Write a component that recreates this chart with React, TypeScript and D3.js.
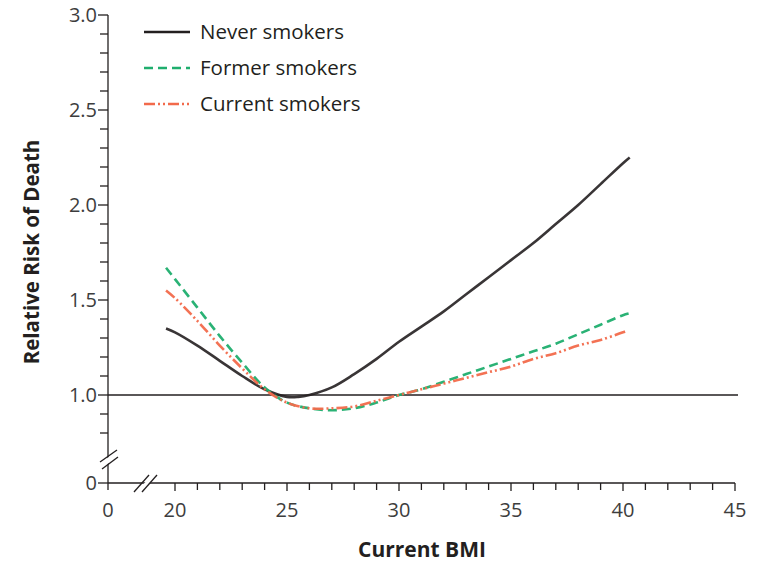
import React from 'react';
import * as d3 from 'd3';

// BMI values
const neverBmi = [19.6, 20, 21, 22, 23, 24, 25, 25.5, 26, 27, 28, 29, 30, 31, 32, 33, 34, 35, 36, 37, 38, 39, 40, 40.3];
const neverRisk = [1.35, 1.33, 1.26, 1.18, 1.10, 1.03, 0.99, 0.99, 1.0, 1.04, 1.11, 1.19, 1.28, 1.36, 1.44, 1.53, 1.62, 1.71, 1.80, 1.90, 2.0, 2.11, 2.22, 2.25];

const formerBmi = [19.6, 20, 21, 22, 23, 24, 25, 26, 27, 28, 29, 30, 31, 32, 33, 34, 35, 36, 37, 38, 39, 40, 40.3];
const formerRisk = [1.67, 1.61, 1.46, 1.31, 1.17, 1.04, 0.96, 0.93, 0.92, 0.93, 0.96, 1.0, 1.03, 1.07, 1.11, 1.15, 1.19, 1.23, 1.27, 1.32, 1.37, 1.42, 1.43];

const currentBmi = [19.6, 20, 21, 22, 23, 24, 25, 26, 27, 28, 29, 30, 31, 32, 33, 34, 35, 36, 37, 38, 39, 40, 40.2];
const currentRisk = [1.55, 1.51, 1.39, 1.26, 1.14, 1.03, 0.96, 0.93, 0.93, 0.94, 0.97, 1.0, 1.03, 1.06, 1.09, 1.12, 1.15, 1.19, 1.22, 1.26, 1.29, 1.33, 1.34];

const xTickLabels = [20, 25, 30, 35, 40, 45];
const yTickLabels = [1.0, 1.5, 2.0, 2.5, 3.0];
const legendNames = ['Never smokers', 'Former smokers', 'Current smokers'];

const colors = ['#231f20', '#1fae6e', '#f26a4b'];
const dashes = ['none', '9,5', '11,3,2,3,2,3'];

const W = 757;
const H = 562;
const axisX = 108; // pixel of BMI 0
const axisY = 483; // pixel of risk 0

const x = d3.scaleLinear().domain([20, 45]).range([175, 735]);
const y = d3.scaleLinear().domain([1, 3]).range([395, 15]);

const font = '"Open Sans", "Noto Sans", sans-serif';
const tickColor = '#3d3d3d';

export default function App() {
  const series = [
    {bmi: neverBmi, risk: neverRisk},
    {bmi: formerBmi, risk: formerRisk},
    {bmi: currentBmi, risk: currentRisk},
  ];

  const line = d3
    .line<[number, number]>()
    .x((d) => x(d[0]))
    .y((d) => y(d[1]))
    .curve(d3.curveCatmullRom);

  const yMinor = d3.range(8, 31).map((d) => d / 10);
  const xMinor = d3.range(20, 46);

  return (
    <svg width={W} height={H} style={{position: 'absolute', left: 0, top: 0}}>
      <rect width={W} height={H} fill="#fff" />

      {/* reference line at 1.0 */}
      <line x1={axisX} x2={738} y1={y(1)} y2={y(1)} stroke="#231f20" strokeWidth={1.3} />

      {/* y axis */}
      <line x1={axisX} x2={axisX} y1={y(3)} y2={axisY + 7} stroke="#231f20" strokeWidth={1.3} />
      {yMinor.map((v) => {
        const major = Math.abs(v * 2 - Math.round(v * 2)) < 1e-6;
        return (
          <line key={v} x1={axisX - (major ? 10 : 8)} x2={axisX} y1={y(v)} y2={y(v)} stroke="#231f20" strokeWidth={1.3} />
        );
      })}
      <line x1={axisX - 10} x2={axisX} y1={axisY} y2={axisY} stroke="#231f20" strokeWidth={1.3} />
      {yTickLabels.map((v) => (
        <text key={v} x={axisX - 11} y={y(v)} dy="0.35em" textAnchor="end" fontFamily={font} fontSize={20} fill={tickColor}>
          {d3.format('.1f')(v)}
        </text>
      ))}
      <text x={axisX - 11} y={axisY} dy="0.35em" textAnchor="end" fontFamily={font} fontSize={20} fill={tickColor}>0</text>

      {/* y break */}
      <polygon points={`${axisX - 6},${462} ${axisX + 9},${451} ${axisX + 9},${457} ${axisX - 6},${468}`} fill="#fff" />
      <line x1={axisX - 8} x2={axisX + 9} y1={462} y2={450} stroke="#231f20" strokeWidth={1.3} />
      <line x1={axisX - 6} x2={axisX + 10} y1={469} y2={457} stroke="#231f20" strokeWidth={1.3} />

      {/* x axis */}
      <line x1={axisX} x2={x(45)} y1={axisY} y2={axisY} stroke="#231f20" strokeWidth={1.3} />
      {xMinor.map((v) => (
        <line key={v} x1={x(v)} x2={x(v)} y1={axisY} y2={axisY + (v % 5 === 0 ? 8 : 7)} stroke="#231f20" strokeWidth={1.3} />
      ))}
      {xTickLabels.map((v) => (
        <text key={v} x={x(v)} y={axisY + 34} textAnchor="middle" fontFamily={font} fontSize={20} fill={tickColor}>{v}</text>
      ))}
      <text x={axisX} y={axisY + 34} textAnchor="middle" fontFamily={font} fontSize={20} fill={tickColor}>0</text>

      {/* x break */}
      <polygon points={`138,490 151,476 156,476 143,490`} fill="#fff" />
      <line x1={134} x2={149} y1={492} y2={475} stroke="#231f20" strokeWidth={1.3} />
      <line x1={142} x2={157} y1={492} y2={475} stroke="#231f20" strokeWidth={1.3} />

      {/* curves */}
      {series.map((s, i) => (
        <path
          key={i}
          d={line(s.bmi.map((b, j) => [b, s.risk[j]] as [number, number])) || ''}
          fill="none"
          stroke={colors[i]}
          strokeWidth={2.6}
          strokeDasharray={dashes[i]}
          opacity={i === 0 ? 0.9 : 0.95}
        />
      ))}

      {/* legend */}
      {legendNames.map((name, i) => (
        <g key={name} transform={`translate(144, ${32 + i * 36})`}>
          <line x1={0} x2={46} y1={0} y2={0} stroke={colors[i]} strokeWidth={2.4} strokeDasharray={dashes[i]} />
          <text x={56} y={0} dy="0.35em" fontFamily={font} fontSize={20.5} fill="#231f20">{name}</text>
        </g>
      ))}

      {/* axis titles */}
      <text
        transform="translate(39, 252) rotate(-90)"
        textAnchor="middle"
        fontFamily={font}
        fontSize={20.5}
        fontWeight="bold"
        fill="#231f20"
      >
        Relative Risk of Death
      </text>
      <text x={422} y={557} textAnchor="middle" fontFamily={font} fontSize={21} fontWeight="bold" fill="#231f20">
        Current BMI
      </text>
    </svg>
  );
}
